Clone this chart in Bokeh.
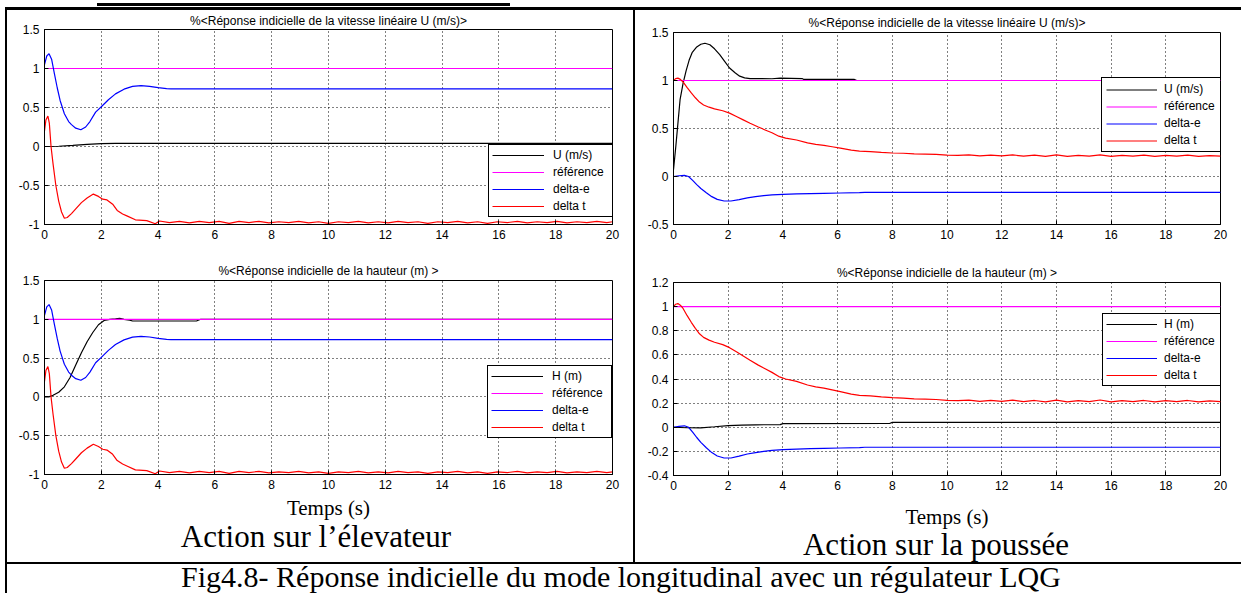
from bokeh.plotting import figure
from bokeh.models import Range1d, FixedTicker, Legend, LegendItem, Div, Spacer
from bokeh.layouts import column, row
from bokeh.embed import file_html
from bokeh.resources import INLINE

# ---------------- data ----------------
X_TICKS = [0, 2, 4, 6, 8, 10, 12, 14, 16, 18, 20]
Y_TICKS_ELEV = [-1, -0.5, 0, 0.5, 1, 1.5]
Y_LABELS_ELEV = ["-1", "-0.5", "0", "0.5", "1", "1.5"]
Y_TICKS_U_THR = [-0.5, 0, 0.5, 1, 1.5]
Y_LABELS_U_THR = ["-0.5", "0", "0.5", "1", "1.5"]
Y_TICKS_H_THR = [-0.4, -0.2, 0, 0.2, 0.4, 0.6, 0.8, 1, 1.2]
Y_LABELS_H_THR = ["-0.4", "-0.2", "0", "0.2", "0.4", "0.6", "0.8", "1", "1.2"]

TITLE_U = "%<Réponse indicielle de la vitesse linéaire U (m/s)>"
TITLE_H = "%<Réponse indicielle de la hauteur (m) >"
LABELS_U = ["U (m/s)", "référence", "delta-e", "delta t"]
LABELS_H = ["H (m)", "référence", "delta-e", "delta t"]
XLABEL = "Temps (s)"
CAPTION_ELEV = "Action sur l’élevateur"
CAPTION_THR = "Action sur la poussée"
CAPTION_FIG = "Fig4.8- Réponse indicielle du mode longitudinal avec un régulateur LQG"

# reference step (t, value)
REF = [[0, 1.0], [20, 1.0]]

# --- action on the elevator ---
U_ELEV = [[0, 0.0], [0.5, 0.003], [1.0, 0.015], [1.5, 0.028], [2.0, 0.036],
          [2.5, 0.039], [3.0, 0.04], [20, 0.04]]
H_ELEV = [[0, 0.0], [0.15, 0.0], [0.3, 0.02], [0.5, 0.06], [0.7, 0.13], [0.9, 0.25],
          [1.1, 0.41], [1.3, 0.57], [1.5, 0.71], [1.7, 0.83], [1.9, 0.93], [2.1, 0.985],
          [2.3, 1.0], [2.5, 1.006], [2.65, 1.012], [2.8, 1.0], [3.0, 0.99], [3.1, 0.978],
          [5.35, 0.978], [5.5, 1.0], [20, 1.0]]
DE_ELEV = [[0, 1.05], [0.08, 1.16], [0.16, 1.19], [0.25, 1.12], [0.35, 0.93], [0.45, 0.75],
           [0.55, 0.59], [0.7, 0.42], [0.85, 0.32], [0.95, 0.28], [1.1, 0.235], [1.28, 0.215],
           [1.45, 0.25], [1.6, 0.32], [1.8, 0.44], [2.0, 0.51], [2.25, 0.6], [2.5, 0.675],
           [2.8, 0.735], [3.1, 0.77], [3.4, 0.78], [3.7, 0.772], [4.0, 0.755], [4.3, 0.742],
           [4.45, 0.738], [20, 0.738]]
DT_ELEV = [[0, 0.2], [0.05, 0.34], [0.12, 0.39], [0.17, 0.3], [0.23, 0.0], [0.3, -0.22],
           [0.4, -0.5], [0.5, -0.7], [0.6, -0.84], [0.7, -0.92], [0.8, -0.91], [0.95, -0.86],
           [1.1, -0.8], [1.3, -0.72], [1.5, -0.66], [1.72, -0.61], [1.9, -0.64], [2.05, -0.675],
           [2.2, -0.685], [2.4, -0.74], [2.56, -0.82], [2.75, -0.865], [2.9, -0.89], [3.2, -0.94],
           [3.6, -0.95], [3.9, -0.99], [4.05, -0.955], [4.4, -0.975], [4.75, -0.96], [5.1, -0.98],
           [5.45, -0.96], [5.8, -0.975], [6.15, -0.96], [6.5, -0.985], [6.85, -0.96], [7.2, -0.975],
           [7.55, -0.96], [7.9, -0.98], [8.25, -0.965], [8.6, -0.975], [8.95, -0.96], [9.3, -0.98],
           [9.65, -0.965], [10.0, -0.985], [10.35, -0.965], [10.7, -0.975], [11.05, -0.96],
           [11.4, -0.98], [11.75, -0.965], [12.1, -0.98], [12.45, -0.96], [12.8, -0.975],
           [13.15, -0.965], [13.5, -0.985], [13.85, -0.965], [14.2, -0.975], [14.55, -0.96],
           [14.9, -0.98], [15.25, -0.965], [15.6, -0.985], [15.95, -0.965], [16.3, -0.975],
           [16.65, -0.96], [17.0, -0.98], [17.35, -0.965], [17.7, -0.975], [18.05, -0.96],
           [18.4, -0.98], [18.75, -0.965], [19.1, -0.975], [19.45, -0.96], [19.8, -0.975],
           [20, -0.965]]

# --- action on the thrust ---
U_THR = [[0, 0.07], [0.08, 0.3], [0.16, 0.55], [0.24, 0.8], [0.35, 0.97], [0.46, 1.1],
         [0.57, 1.21], [0.68, 1.29], [0.85, 1.35], [1.0, 1.378], [1.15, 1.388], [1.33, 1.372],
         [1.5, 1.33], [1.69, 1.27], [1.87, 1.2], [2.05, 1.13], [2.25, 1.08], [2.42, 1.045],
         [2.6, 1.028], [2.8, 1.02], [3.6, 1.018], [3.9, 1.024], [4.3, 1.022], [4.7, 1.02],
         [4.75, 1.012], [6.6, 1.012], [6.7, 1.0], [20, 1.0]]
H_THR = [[0, 0.0], [0.5, -0.004], [1.0, -0.005], [1.5, 0.004], [2.0, 0.014], [2.5, 0.018],
         [3.0, 0.02], [3.9, 0.022], [4.0, 0.03], [7.9, 0.031], [8.0, 0.04], [20, 0.04]]
DE_THR = [[0, 0.0], [0.2, 0.008], [0.4, 0.012], [0.55, 0.0], [0.7, -0.04], [0.85, -0.085],
          [1.0, -0.125], [1.2, -0.17], [1.4, -0.21], [1.6, -0.238], [1.85, -0.255], [2.1, -0.255],
          [2.4, -0.24], [2.7, -0.222], [3.0, -0.21], [3.3, -0.2], [3.6, -0.192], [4.0, -0.186],
          [4.5, -0.181], [5.0, -0.178], [5.5, -0.175], [6.1, -0.172], [6.8, -0.169], [7.0, -0.166],
          [20, -0.166]]
DT_THR = [[0, 1.0], [0.08, 1.02], [0.16, 1.025], [0.25, 1.012], [0.35, 0.985], [0.5, 0.925],
          [0.65, 0.87], [0.8, 0.82], [0.95, 0.775], [1.1, 0.745], [1.3, 0.722], [1.5, 0.705],
          [1.8, 0.685], [2.05, 0.66], [2.3, 0.625], [2.55, 0.59], [2.8, 0.555], [3.1, 0.515],
          [3.35, 0.485], [3.6, 0.455], [3.85, 0.42], [4.1, 0.4], [4.5, 0.38], [4.9, 0.35],
          [5.2, 0.335], [5.5, 0.325], [5.8, 0.31], [6.1, 0.295], [6.5, 0.275], [6.8, 0.265],
          [7.2, 0.26], [7.6, 0.252], [8.0, 0.245], [8.4, 0.242], [8.8, 0.236], [9.2, 0.233],
          [9.6, 0.23], [10.0, 0.222], [10.4, 0.22], [10.8, 0.225], [11.2, 0.215], [11.6, 0.222],
          [12.0, 0.215], [12.4, 0.225], [12.8, 0.212], [13.2, 0.222], [13.6, 0.21], [14.0, 0.225],
          [14.4, 0.21], [14.8, 0.22], [15.2, 0.212], [15.6, 0.226], [16.0, 0.21], [16.4, 0.22],
          [16.8, 0.212], [17.2, 0.222], [17.6, 0.21], [18.0, 0.22], [18.4, 0.212], [18.8, 0.222],
          [19.2, 0.21], [19.6, 0.218], [20.0, 0.212]]

COLORS = ["#000000", "#ff00ff", "#0000ff", "#ff0000"]

SANS = "Liberation Sans"
SERIF = "Liberation Serif"


def make_plot(w, h, borders, yr, yt, yl, title, title_standoff, series, labels, leg,
              xlabel=None, xlabel_standoff=0):
    left, right, top, bottom = borders
    p = figure(width=w, height=h, x_range=Range1d(0, 20), y_range=Range1d(*yr),
               output_backend="svg", toolbar_location=None, tools="",
               min_border_left=left, min_border_right=right,
               min_border_top=top, min_border_bottom=bottom,
               background_fill_color="white", border_fill_color="white")
    p.title.text = title
    p.title.align = "center"
    p.title.text_font = SANS
    p.title.text_font_size = "12px"
    p.title.text_font_style = "normal"
    p.title.text_color = "black"
    p.title.standoff = title_standoff
    p.outline_line_color = "black"
    p.outline_line_alpha = 1
    p.outline_line_width = 1

    xa, ya = p.xaxis[0], p.yaxis[0]
    xa.ticker = FixedTicker(ticks=X_TICKS)
    ya.ticker = FixedTicker(ticks=yt)
    ya.major_label_overrides = dict(zip(yt, yl))
    for ax in (xa, ya):
        ax.axis_line_color = "black"
        ax.major_tick_line_color = "black"
        ax.major_tick_in = 4
        ax.major_tick_out = 0
        ax.minor_tick_line_color = None
        ax.major_label_text_font = SANS
        ax.major_label_text_font_size = "12px"
        ax.major_label_text_color = "black"
    xa.major_label_standoff = 5
    ya.major_label_standoff = 5
    if xlabel:
        xa.axis_label = xlabel
        xa.axis_label_text_font = SERIF
        xa.axis_label_text_font_size = "21px"
        xa.axis_label_text_font_style = "normal"
        xa.axis_label_text_color = "black"
        xa.axis_label_standoff = xlabel_standoff
    for g in (p.xgrid[0], p.ygrid[0]):
        g.grid_line_color = "black"
        g.grid_line_dash = "1 3"
        g.grid_line_alpha = 1
        g.grid_line_width = 1

    rends = []
    for data, color in zip(series, COLORS):
        t = [d[0] for d in data]
        v = [d[1] for d in data]
        rends.append(p.line(t, v, line_color=color, line_width=1.2))

    vx, vy, gw, std, lw, pad, sp, lh = leg
    legend = Legend(items=[LegendItem(label=l, renderers=[r]) for l, r in zip(labels, rends)],
                    location=(vx, vy), padding=pad, spacing=sp, label_height=lh,
                    glyph_height=lh, glyph_width=gw, label_standoff=std, label_width=lw,
                    margin=0, label_text_font=SANS, label_text_font_size="12px",
                    label_text_color="black", border_line_color="black",
                    border_line_width=1, border_line_alpha=1,
                    background_fill_color="white", background_fill_alpha=1)
    p.add_layout(legend)
    return p


def bar(w, h):
    return Div(text="", width=w, height=h, margin=0, styles={"background-color": "black"})


def gap(w, h):
    return Spacer(width=w, height=h, margin=0)


def text_div(txt, w, h, size, lh, dx, dy):
    html = ('<div style="position:relative;left:%dpx;top:%dpx;width:%dpx;text-align:center;'
            'font-family:\'Liberation Serif\',serif;font-size:%dpx;line-height:%dpx;'
            'white-space:nowrap;color:#000">%s</div>') % (dx, dy, w, size, lh, txt)
    return Div(text=html, width=w, height=h, margin=0)


tl = make_plot(626, 242, (37, 21, 19, 28), (-1, 1.5), Y_TICKS_ELEV, Y_LABELS_ELEV, TITLE_U, 3,
               [U_ELEV, REF, DE_ELEV, DT_ELEV], LABELS_U, (444, 7, 52, 9, 56, 3, 3, 14))
bl = make_plot(626, 270, (37, 21, 28, 47), (-1, 1.5), Y_TICKS_ELEV, Y_LABELS_ELEV, TITLE_H, 6,
               [H_ELEV, REF, DE_ELEV, DT_ELEV], LABELS_H, (443, 36, 52, 9, 56, 3, 3, 14),
               xlabel=XLABEL, xlabel_standoff=4)
tr = make_plot(606, 242, (38, 21, 22, 28), (-0.5, 1.5), Y_TICKS_U_THR, Y_LABELS_U_THR, TITLE_U, 6,
               [U_THR, REF, DE_THR, DT_THR], LABELS_U, (428, 72, 51, 7, 54, 4, 3, 13))
br = make_plot(606, 279, (38, 21, 30, 56), (-0.4, 1.2), Y_TICKS_H_THR, Y_LABELS_H_THR, TITLE_H, 6,
               [H_THR, REF, DE_THR, DT_THR], LABELS_H, (429, 89, 51, 7, 53, 3, 3, 14),
               xlabel=XLABEL, xlabel_standoff=12)

act_left = text_div(CAPTION_ELEV, 626, 40, 31, 31, -4, -1)
act_right = text_div(CAPTION_THR, 606, 31, 31, 31, -2, -2)
caption = text_div(CAPTION_FIG, 1234, 29, 30, 29, -3, -2)

top = column(gap(1241, 3),
             row(gap(97, 3), bar(413, 3)),
             gap(1241, 1),
             row(gap(5, 3), bar(1236, 3)))
main = row(gap(5, 552), bar(2, 552), column(tl, bl, act_left), bar(2, 552),
           column(tr, br, act_right))
hline = row(gap(5, 2), bar(1236, 2))
bottom = row(gap(5, 29), bar(2, 29), caption)
layout = column(top, main, hline, bottom)

open("out.html", "w").write(file_html(layout, INLINE))
